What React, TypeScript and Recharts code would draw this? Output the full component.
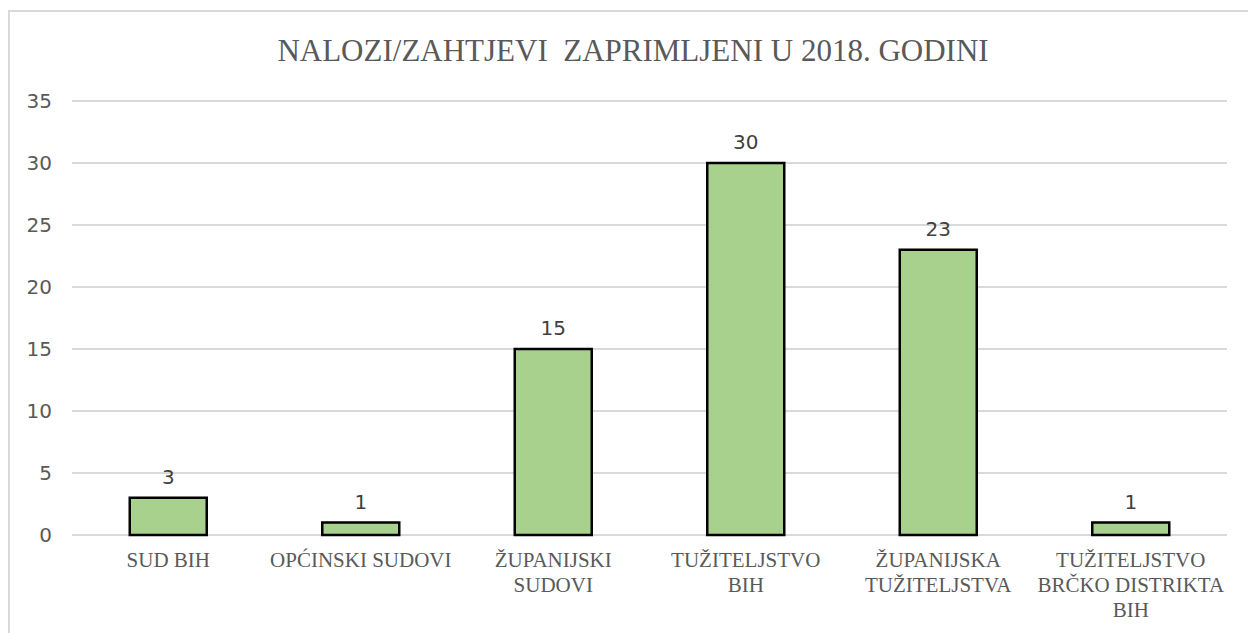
import { Bar, BarChart, CartesianGrid, LabelList, XAxis, YAxis } from "recharts";

const categories = [
  "SUD BIH",
  "OPĆINSKI SUDOVI",
  "ŽUPANIJSKI\nSUDOVI",
  "TUŽITELJSTVO\nBIH",
  "ŽUPANIJSKA\nTUŽITELJSTVA",
  "TUŽITELJSTVO\nBRČKO DISTRIKTA\nBIH",
];
const counts = [3, 1, 15, 30, 23, 1];
const yTicks = [0, 5, 10, 15, 20, 25, 30, 35];

const data = categories.map((name, i) => ({ name, value: counts[i] }));

const serif = "'Liberation Serif', 'Times New Roman', serif";
const sans = "'DejaVu Sans', sans-serif";

function CategoryTick(props: any) {
  const { x, y, payload } = props;
  const lines = String(payload.value).split("\n");
  return (
    <text
      x={x}
      y={y}
      textAnchor="middle"
      fill="#595959"
      fontFamily={serif}
      fontSize={21}
    >
      {lines.map((line, i) => (
        <tspan key={i} x={x} dy={i === 0 ? 32 : 25}>
          {line}
        </tspan>
      ))}
    </text>
  );
}

export default function App() {
  return (
    <div
      style={{
        position: "absolute",
        left: 0,
        top: 0,
        width: 1248,
        height: 633,
        overflow: "hidden",
        background: "#fff",
      }}
    >
      <div
        style={{
          position: "absolute",
          left: 8,
          top: 10,
          width: 1400,
          height: 800,
          border: "2px solid #d9d9d9",
        }}
      />
      <div
        style={{
          position: "absolute",
          left: 0,
          width: 1266,
          top: 35,
          textAlign: "center",
          fontFamily: serif,
          fontSize: 31,
          lineHeight: "31px",
          color: "#595959",
          whiteSpace: "pre",
        }}
      >
        {"NALOZI/ZAHTJEVI  ZAPRIMLJENI U 2018. GODINI"}
      </div>
      <div style={{ position: "absolute", left: 0, top: 0 }}>
        <BarChart
          width={1248}
          height={633}
          data={data}
          margin={{ top: 101, right: 21, bottom: 0, left: 0 }}
          barCategoryGap="30%"
        >
          <CartesianGrid
            vertical={false}
            stroke="#d9d9d9"
            strokeWidth={2}
          />
          <XAxis
            dataKey="name"
            height={98}
            axisLine={false}
            tickLine={false}
            tickSize={0}
            tickMargin={0}
            interval={0}
            tick={<CategoryTick />}
          />
          <YAxis
            width={72}
            domain={[0, 35]}
            ticks={yTicks}
            axisLine={false}
            tickLine={false}
            tickSize={0}
            tickMargin={20}
            tick={{ fill: "#595959", fontSize: 20, fontFamily: sans }}
          />
          <Bar
            dataKey="value"
            fill="#a9d18e"
            stroke="#000"
            strokeWidth={2.5}
            isAnimationActive={false}
          >
            <LabelList
              dataKey="value"
              position="top"
              offset={14}
              fill="#404040"
              fontSize={20}
              fontFamily={sans}
            />
          </Bar>
        </BarChart>
      </div>
    </div>
  );
}
